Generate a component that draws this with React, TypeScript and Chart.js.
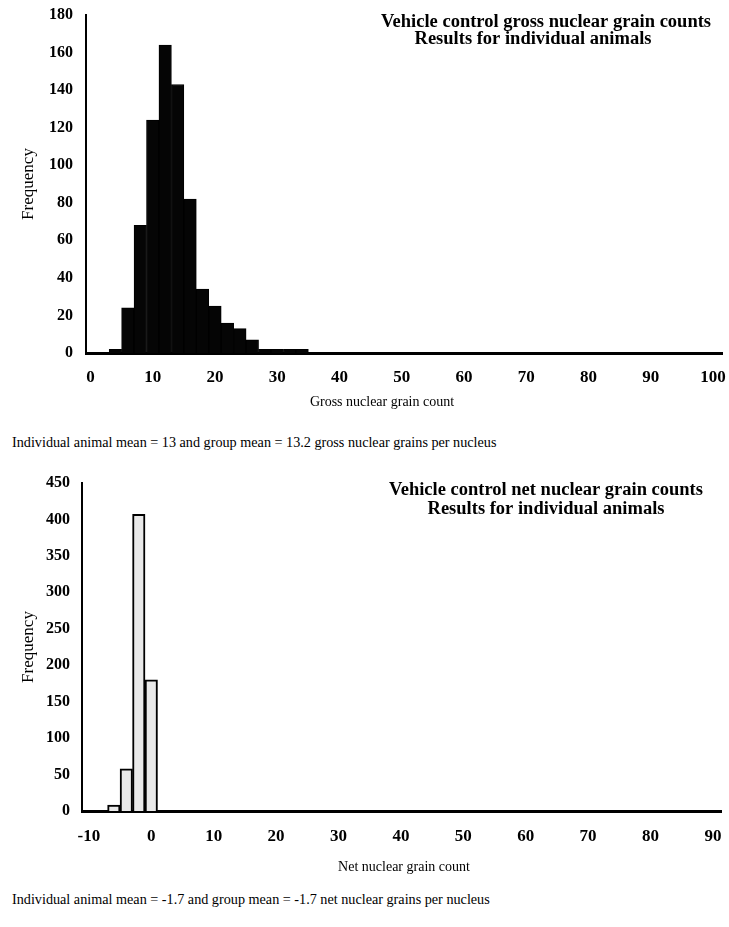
import React, { useEffect, useRef } from "react";
import { Chart, registerables } from "chart.js";

Chart.register(...registerables);

// ---------- data ----------
const GROSS_BIN_CENTERS = [4, 6, 8, 10, 12, 14, 16, 18, 20, 22, 24, 26, 28, 30, 32, 34];
const GROSS_FREQUENCIES = [2, 24, 68, 124, 164, 143, 82, 34, 25, 16, 13, 7, 2, 2, 2, 2];
const GROSS_X_TICKS = [0, 10, 20, 30, 40, 50, 60, 70, 80, 90, 100];
const GROSS_Y_TICKS = [0, 20, 40, 60, 80, 100, 120, 140, 160, 180];

const NET_BIN_CENTERS = [-6, -4, -2, 0];
const NET_FREQUENCIES = [8, 58, 407, 180];
const NET_X_TICKS = [-10, 0, 10, 20, 30, 40, 50, 60, 70, 80, 90];
const NET_Y_TICKS = [0, 50, 100, 150, 200, 250, 300, 350, 400, 450];

const GROSS_TITLE = ["Vehicle control gross nuclear grain counts", "Results for individual animals"];
const NET_TITLE = ["Vehicle control net nuclear grain counts", "Results for individual animals"];
const GROSS_X_LABEL = "Gross nuclear grain count";
const NET_X_LABEL = "Net nuclear grain count";
const Y_LABEL = "Frequency";
const GROSS_CAPTION = "Individual animal mean = 13 and group mean = 13.2 gross nuclear grains per nucleus";
const NET_CAPTION = "Individual animal mean = -1.7 and group mean = -1.7 net nuclear grains per nucleus";

const SERIF = "'Liberation Serif', 'Times New Roman', serif";

const overlayText = {
  id: "overlayText",
  afterDraw(chart: any, _args: any, opts: any) {
    const ctx = chart.ctx;
    ctx.save();
    ctx.fillStyle = "#000";
    ctx.textAlign = "center";
    ctx.textBaseline = "middle";
    for (const it of opts.items || []) {
      ctx.font = it.font;
      ctx.fillText(it.text, it.x, it.y);
    }
    ctx.restore();
  },
};

type HistCfg = {
  centers: number[];
  freqs: number[];
  xTicks: number[];
  yTicks: number[];
  xMin: number;
  xMax: number;
  yMax: number;
  fill: string;
  barBorder: number;
  padTop: number;
  padRight: number;
  yWidth: number;
  xHeight: number;
  yTickPad: number;
  xTickPad: number;
  height: number;
  texts: { text: string; x: number; y: number; font: string }[];
};

function Histogram({ cfg, top }: { cfg: HistCfg; top: number }) {
  const ref = useRef<HTMLCanvasElement>(null);
  useEffect(() => {
    if (!ref.current) return;
    const chart = new Chart(ref.current, {
      type: "bar",
      data: {
        datasets: [
          {
            data: cfg.centers.map((x, i) => ({ x, y: cfg.freqs[i] })),
            backgroundColor: cfg.fill,
            borderColor: "#000",
            borderWidth: cfg.barBorder,
            barPercentage: 1,
            categoryPercentage: 1,
          } as any,
        ],
      },
      options: {
        animation: false,
        responsive: false,
        layout: { padding: { top: cfg.padTop, right: cfg.padRight, left: 0, bottom: 0 } },
        plugins: {
          legend: { display: false },
          tooltip: { enabled: false },
          overlayText: { items: cfg.texts },
        } as any,
        scales: {
          x: {
            type: "linear",
            min: cfg.xMin,
            max: cfg.xMax,
            offset: false,
            grid: { display: false, drawTicks: false },
            border: { display: true, color: "#000", width: 3 },
            ticks: {
              color: "#000",
              font: { family: SERIF, size: 17, weight: "bold" },
              padding: cfg.xTickPad,
              maxRotation: 0,
              autoSkip: false,
              includeBounds: false,
              callback: (v: any) => String(v),
            },
            afterBuildTicks: (s: any) => {
              s.ticks = cfg.xTicks.map((v) => ({ value: v }));
            },
            afterFit: (s: any) => {
              s.height = cfg.xHeight;
              s.paddingLeft = 0;
              s.paddingRight = 0;
            },
          } as any,
          y: {
            min: 0,
            max: cfg.yMax,
            grid: { display: false, drawTicks: false },
            border: { display: true, color: "#000", width: 2 },
            ticks: {
              color: "#000",
              font: { family: SERIF, size: 16, weight: "bold" },
              padding: cfg.yTickPad,
              autoSkip: false,
              callback: (v: any) => String(v),
            },
            title: {
              display: true,
              text: Y_LABEL,
              color: "#000",
              font: { family: SERIF, size: 17 },
              padding: { top: 18, bottom: 0 },
            },
            afterBuildTicks: (s: any) => {
              s.ticks = cfg.yTicks.map((v) => ({ value: v }));
            },
            afterFit: (s: any) => {
              s.width = cfg.yWidth;
              s.paddingTop = 0;
              s.paddingBottom = 0;
            },
          } as any,
        },
      },
      plugins: [overlayText],
    });
    return () => chart.destroy();
  }, []);
  return (
    <div style={{ position: "absolute", left: 0, top, width: 729, height: cfg.height }}>
      <canvas ref={ref} width={729} height={cfg.height} style={{ display: "block" }} />
    </div>
  );
}

const TITLE_FONT = `bold 18.5px ${SERIF}`;
const AXIS_FONT = `14px ${SERIF}`;

const grossCfg: HistCfg = {
  centers: GROSS_BIN_CENTERS,
  freqs: GROSS_FREQUENCIES,
  xTicks: GROSS_X_TICKS,
  yTicks: GROSS_Y_TICKS,
  xMin: -0.72,
  xMax: 101.45,
  yMax: 180,
  fill: "#050505",
  barBorder: 1,
  padTop: 15,
  padRight: 7,
  yWidth: 86,
  xHeight: 72,
  yTickPad: 13,
  xTickPad: 14,
  height: 425,
  texts: [
    { text: GROSS_TITLE[0], x: 546, y: 22, font: TITLE_FONT },
    { text: GROSS_TITLE[1], x: 533, y: 39, font: TITLE_FONT },
    { text: GROSS_X_LABEL, x: 382, y: 402, font: AXIS_FONT },
  ],
};

const netCfg: HistCfg = {
  centers: NET_BIN_CENTERS,
  freqs: NET_FREQUENCIES,
  xTicks: NET_X_TICKS,
  yTicks: NET_Y_TICKS,
  xMin: -11.1,
  xMax: 91.3,
  yMax: 450,
  fill: "#e9e9e9",
  barBorder: 2,
  padTop: 28,
  padRight: 8,
  yWidth: 82,
  xHeight: 74,
  yTickPad: 12,
  xTickPad: 15,
  height: 430,
  texts: [
    { text: NET_TITLE[0], x: 546, y: 35, font: TITLE_FONT },
    { text: NET_TITLE[1], x: 546, y: 54, font: TITLE_FONT },
    { text: NET_X_LABEL, x: 404, y: 412, font: AXIS_FONT },
  ],
};

const captionStyle: React.CSSProperties = {
  position: "absolute",
  left: 12,
  fontFamily: SERIF,
  fontSize: 14.2,
  lineHeight: "14px",
  whiteSpace: "nowrap",
  color: "#000",
};

export default function App() {
  return (
    <div style={{ position: "absolute", left: 0, top: 0, width: 729, height: 927, background: "#fff" }}>
      <Histogram cfg={grossCfg} top={0} />
      <div style={{ ...captionStyle, top: 435 }}>{GROSS_CAPTION}</div>
      <Histogram cfg={netCfg} top={455} />
      <div style={{ ...captionStyle, top: 892 }}>{NET_CAPTION}</div>
    </div>
  );
}
